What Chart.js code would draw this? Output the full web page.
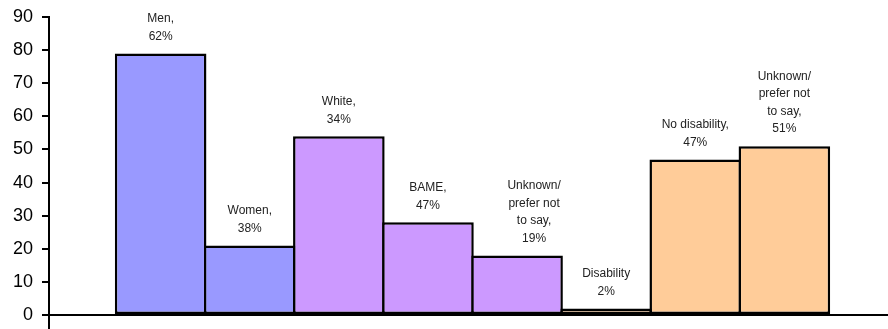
<!DOCTYPE html>
<html>
<head>
<meta charset="utf-8">
<script src="https://cdn.jsdelivr.net/npm/chart.js@4"></script>
<style>
  html, body { margin: 0; padding: 0; background: #fff; }
  #wrap { width: 888px; height: 329px; }
</style>
</head>
<body>
<div id="wrap"><canvas id="chart"></canvas></div>
<script>
////////////data////////////
var categories = ['Men', 'Women', 'White', 'BAME', 'Unknown/prefer not to say', 'Disability', 'No disability', 'Unknown/prefer not to say'];
var values = [79, 21, 54, 28, 18, 2, 47, 51];
var barLabels = [
  ['Men,', '62%'],
  ['Women,', '38%'],
  ['White,', '34%'],
  ['BAME,', '47%'],
  ['Unknown/', 'prefer not', 'to say,', '19%'],
  ['Disability', '2%'],
  ['No disability,', '47%'],
  ['Unknown/', 'prefer not', 'to say,', '51%']
];
var groupColors = ['#9999FF', '#9999FF', '#CC99FF', '#CC99FF', '#CC99FF', '#FFCC99', '#FFCC99', '#FFCC99'];
var yTicks = [0, 10, 20, 30, 40, 50, 60, 70, 80, 90];

////////////labels above bars////////////
var labelPlugin = {
  id: 'barText',
  afterDatasetsDraw: function(chart, args, opts) {
    var ctx = chart.ctx;
    var meta = chart.getDatasetMeta(0);
    ctx.save();
    ctx.font = '12px "Liberation Sans", Arial, sans-serif';
    ctx.fillStyle = '#222';
    ctx.textAlign = 'center';
    ctx.textBaseline = 'middle';
    meta.data.forEach(function(bar, i) {
      var lines = barLabels[i];
      var nudge = (opts.nudge && opts.nudge[i]) || 0;
      lines.forEach(function(line, j) {
        var y = bar.y - 17 - (lines.length - 1 - j) * 17.5;
        ctx.fillText(line, bar.x + nudge, y);
      });
    });
    ctx.restore();
  }
};

////////////create chart////////////
var myChart = new Chart(document.getElementById('chart'), {
  type: 'bar',
  data: {
    datasets: [{
      data: values.map(function(v, i) { return { x: i + 1, y: v }; }),
      backgroundColor: groupColors,
      borderColor: '#000',
      borderWidth: 2.5,
      borderSkipped: false,
      categoryPercentage: 1,
      barPercentage: 91.5 / 89
    }]
  },
  options: {
    responsive: true,
    maintainAspectRatio: false,
    animation: false,
    layout: { padding: { top: 17, left: 0, right: 0, bottom: 0 } },
    plugins: {
      legend: { display: false },
      tooltip: { enabled: false },
      barText: { nudge: { 4: 17 } }
    },
    scales: {
      x: {
        type: 'linear',
        min: -0.253,
        max: 9.163,
        offset: false,
        display: false
      },
      y: {
        min: -4.2,
        max: 90,
        afterBuildTicks: function(scale) {
          scale.ticks = yTicks.map(function(v) { return { value: v }; });
        },
        afterFit: function(scale) {
          scale.width = 49;
          scale.paddingTop = 0;
          scale.paddingBottom = 0;
        },
        border: { display: true, color: '#000', width: 2 },
        grid: {
          drawOnChartArea: true,
          color: function(c) { return c.tick && c.tick.value === 0 ? '#000' : 'rgba(0,0,0,0)'; },
          lineWidth: 2,
          tickColor: '#000',
          tickLength: 7,
          tickWidth: 2
        },
        ticks: {
          color: '#000',
          padding: 9,
          font: { family: '"Liberation Sans", Arial, sans-serif', size: 18 }
        }
      }
    }
  },
  plugins: [labelPlugin]
}); //end new Chart
</script>
</body>
</html>
